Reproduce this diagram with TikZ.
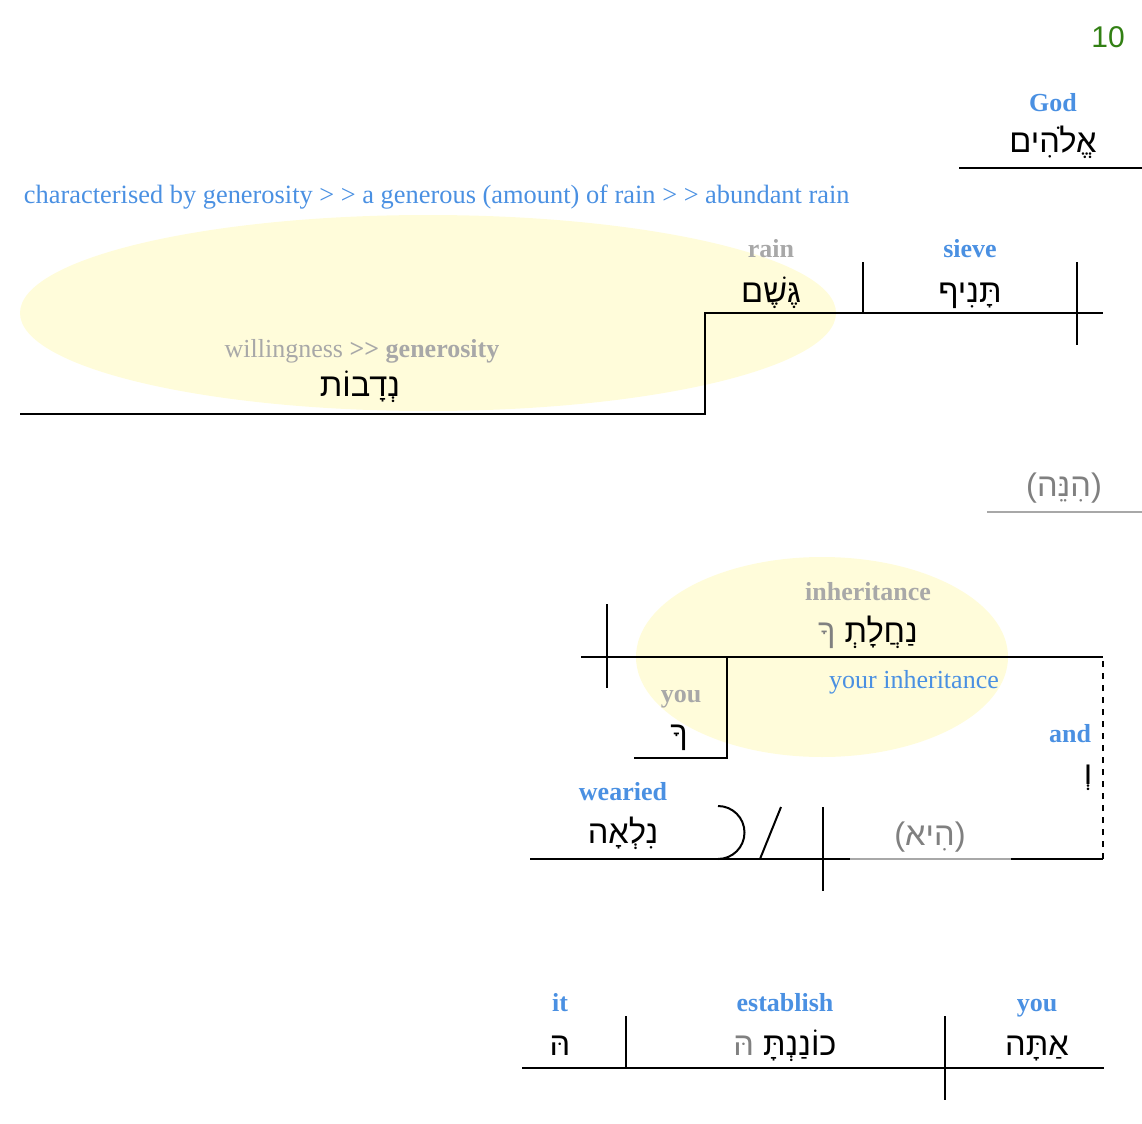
\documentclass[tikz,border=0pt]{standalone}
\usepackage{fontspec}
\setmainfont{Liberation Serif}
\newfontfamily\hebfont[Script=Hebrew]{Liberation Sans}
\newfontfamily\numfont{Liberation Sans}
\TeXXeTstate=1
\usepackage{tikz}
\usetikzlibrary{positioning}

\definecolor{glossblue}{RGB}{74,144,226}
\definecolor{glossgrey}{RGB}{168,168,168}
\definecolor{hebgrey}{RGB}{128,128,128}
\definecolor{halo}{RGB}{255,252,218}
\definecolor{pagegreen}{RGB}{50,128,20}

\begin{document}
\begin{tikzpicture}[x=0.5pt, y=-0.5pt, line width=1pt,
                    gloss/.style = {font=\bfseries\fontsize{13}{13}\selectfont, text=glossblue, inner sep=0pt, anchor=base},
                    faint/.style = {gloss, text=glossgrey},
                    plain/.style = {gloss, font=\fontsize{13}{13}\selectfont},
                    heb/.style = {font=\hebfont\fontsize{16.3}{16}\selectfont, inner sep=0pt, anchor=base},
                    halo/.style = {fill=halo, draw=none}]
  \useasboundingbox (0,0) rectangle (1142,1124);

  % highlighted groups
  \fill [halo] (428,313) ellipse [x radius=408, y radius=98];
  \fill [halo] (822,657) ellipse [x radius=186, y radius=100];

  \node [text=pagegreen, font=\numfont\fontsize{15}{15}\selectfont, inner sep=0pt, anchor=base] (page) at (1108,47) {10};

  % subject
  \node [gloss] (god) at (1053,112) {God};
  \node [heb] (elohim) at (1053,152) {\beginR אֱלֹהִים\endR};
  \coordinate (subjL) at (959,168);
  \coordinate (subjR) at (1142,168);
  \draw (subjL) -- (subjR);

  \node [plain, font=\fontsize{13.2}{13}\selectfont, anchor=base west] (note) at (23,203)
    {characterised by generosity > > a generous (amount) of rain > > abundant rain};

  % first clause
  \node [faint] (rain) at (771,257) {rain};
  \node [heb] (geshem) at (771,302) {\beginR גֶּשֶׁם\endR};
  \node [gloss] (sieve) at (970,257) {sieve};
  \node [heb] (tanif) at (970,302) {\beginR תָּנִיף\endR};
  \node [faint, font=\fontsize{13}{13}\selectfont] (will) at (362,357) {willingness \textbf{>{}> generosity}};
  \node [heb] (nedavot) at (360,396) {\beginR נְדָבוֹת\endR};
  \coordinate (stepT) at (705,313);
  \coordinate (stepB) at (705,414);
  \coordinate (baseL) at (20,414);
  \coordinate (baseR) at (1103,313);
  \draw (baseL) -- (stepB) -- (stepT) -- (baseR);
  \draw (863,262) -- (863,313);
  \draw (1077,262) -- (1077,345);

  % hinneh
  \node [heb, text=hebgrey] (hinneh) at (1064,496) {{\numfont(}\beginR הִנֵּה\endR{\numfont)}};
  \draw [glossgrey] (987,512) -- (1142,512);

  % second clause
  \node [faint] (inherit) at (868,600) {inheritance};
  \node [heb] (nahalat) at (868,642) {{\color{hebgrey}\beginR ךָ\endR} \beginR נַחֲלָתְ\endR};
  \node [faint] (you1) at (681,702) {you};
  \node [heb] (kha) at (679,744) {\beginR ךָ\endR};
  \node [plain] (yourinh) at (914,688) {your inheritance};
  \node [gloss] (and) at (1070,742) {and};
  \node [heb] (waw) at (1088,784) {\beginR וְ\endR};
  \node [gloss] (wearied) at (623,800) {wearied};
  \node [heb] (nilah) at (623,843) {\beginR נִלְאָה\endR};
  \node [heb, text=hebgrey] (hi) at (930,845) {{\numfont(}\beginR הִיא\endR{\numfont)}};

  \coordinate (topL) at (581,657);
  \coordinate (topR) at (1103,657);
  \coordinate (botL) at (530,859);
  \coordinate (botR) at (1103,859);
  \draw (topL) -- (topR);
  \draw (607,604) -- (607,688);
  \draw (727,657) -- (727,758) -- (634,758);
  \draw (botL) -- (850,859);
  \draw [glossgrey] (850,859) -- (1011,859);
  \draw (1011,859) -- (botR);
  \draw [dashed] (botR) -- (topR);
  \draw (823,807) -- (823,891);
  \draw (760,859) -- (781,807);
  \draw (718,806) arc [start angle=-90, end angle=90, radius=26.5];

  % third clause
  \node [gloss] (it) at (560,1011) {it};
  \node [heb] (he) at (560,1055) {\beginR הּ\endR};
  \node [gloss] (establish) at (785,1011) {establish};
  \node [heb] (konanta) at (785,1055) {{\color{hebgrey}\beginR הּ\endR} \beginR כוֹנַנְתָּ\endR};
  \node [gloss] (you2) at (1037,1011) {you};
  \node [heb] (atta) at (1037,1055) {\beginR אַתָּה\endR};
  \coordinate (lowL) at (522,1068);
  \coordinate (lowR) at (1104,1068);
  \draw (lowL) -- (lowR);
  \draw (626,1016) -- (626,1068);
  \draw (945,1016) -- (945,1100);
\end{tikzpicture}
\end{document}
